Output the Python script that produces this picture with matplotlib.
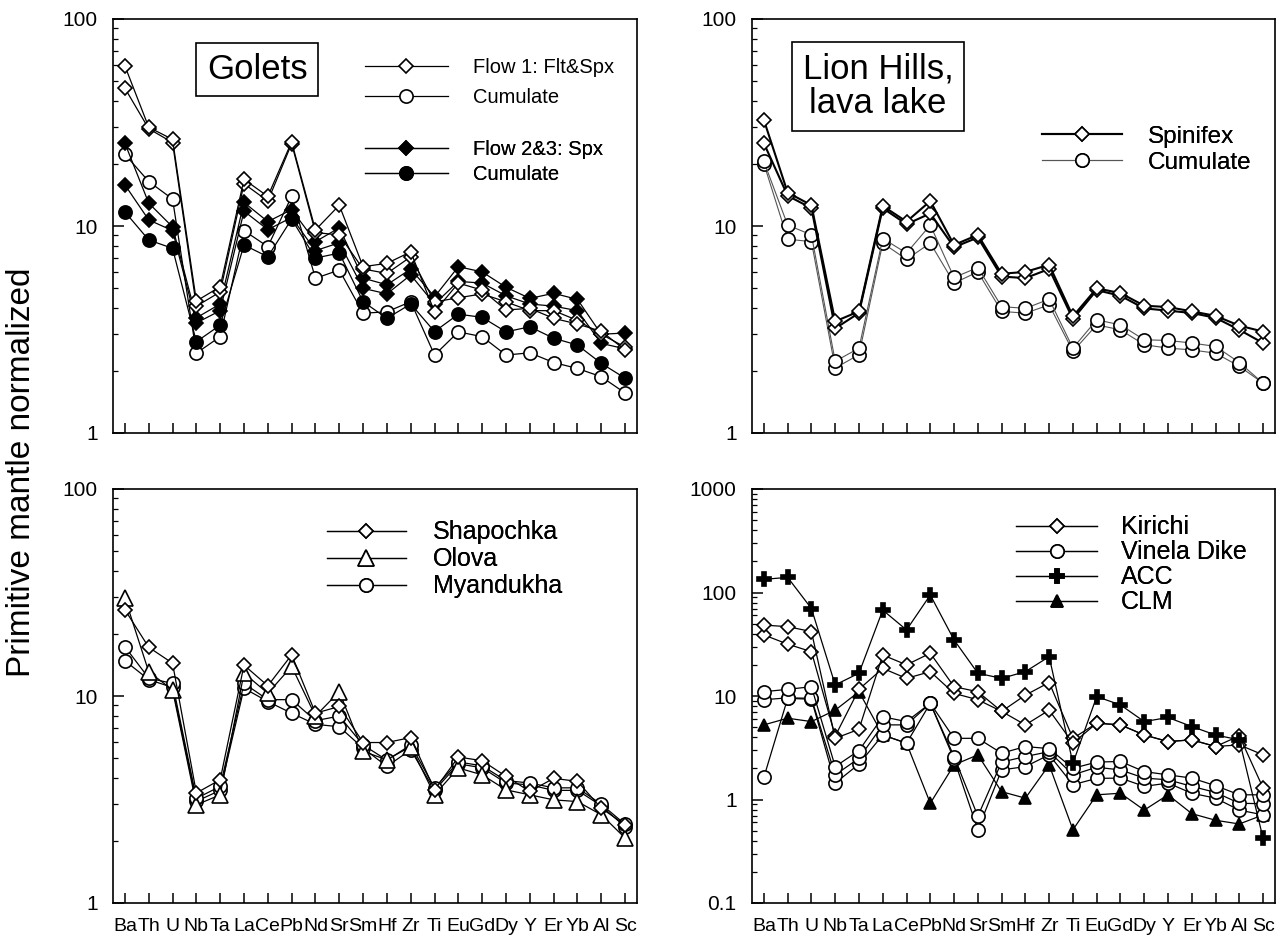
import matplotlib
matplotlib.use("Agg")
import matplotlib.pyplot as plt
from matplotlib.lines import Line2D
from matplotlib.ticker import LogLocator, FuncFormatter, NullFormatter

plt.rcParams["font.family"] = ["Liberation Sans", "DejaVu Sans"]

elements = ["Ba", "Th", "U", "Nb", "Ta", "La", "Ce", "Pb", "Nd", "Sr", "Sm",
            "Hf", "Zr", "Ti", "Eu", "Gd", "Dy", "Y", "Er", "Yb", "Al", "Sc"]

# Golets: flow 1 (fluid-textured & spinifex) and its cumulate
golets_flow1_a = [59.3, 30.0, 26.2, 4.34, 5.09, 16.8, 13.9, 25.5, 9.57, 12.6, 6.36,
                  6.6, 7.5, 3.85, 5.3, 4.9, 3.93, 4.0, 3.58, 3.36, 3.1, 2.52]
golets_flow1_b = [46.3, 29.5, 25.3, 4.1, 4.8, 16.0, 13.2, 25.0, 9.3, 9.05, 6.2,
                  5.9, 7.1, 4.3, 4.5, 4.7, 4.3, 3.9, 3.9, 3.5, 3.0, 2.6]
golets_flow1_cum = [22.2, 16.4, 13.5, 2.43, 2.92, 9.5, 7.95, 13.9, 5.59, 6.13, 3.79,
                    3.85, 4.31, 2.38, 3.08, 2.92, 2.38, 2.44, 2.19, 2.05, 1.87, 1.56]
# Golets: flows 2 & 3 spinifex and cumulate
golets_flow23_a = [25.1, 12.9, 9.9, 3.6, 4.2, 13.0, 10.5, 12.0, 8.4, 9.8, 5.6,
                   5.2, 6.2, 4.55, 6.36, 6.0, 5.06, 4.47, 4.73, 4.42, 3.0, 3.04]
golets_flow23_b = [15.8, 10.7, 9.5, 3.4, 3.9, 11.8, 9.6, 11.0, 7.6, 8.3, 5.0,
                   4.7, 5.8, 4.2, 5.4, 5.3, 4.6, 4.2, 4.1, 3.9, 2.71, 2.55]
golets_flow23_cum = [11.7, 8.56, 7.8, 2.76, 3.32, 8.1, 7.1, 10.8, 7.0, 7.4, 4.31,
                     3.58, 4.2, 3.09, 3.75, 3.62, 3.08, 3.26, 2.87, 2.66, 2.17, 1.84]

# Lion Hills lava lake
lion_spx_a = [32.5, 14.5, 12.6, 3.46, 3.87, 12.5, 10.5, 13.2, 8.1, 9.06, 5.88,
              6.0, 6.5, 3.66, 5.0, 4.74, 4.12, 4.06, 3.87, 3.68, 3.3, 3.09]
lion_spx_b = [25.1, 14.0, 12.2, 3.2, 3.8, 12.2, 10.2, 11.5, 7.9, 8.8, 5.7,
              5.6, 6.2, 3.55, 4.9, 4.6, 4.0, 3.9, 3.8, 3.6, 3.15, 2.72]
lion_cum_a = [20.5, 10.1, 9.06, 2.22, 2.57, 8.7, 7.4, 10.1, 5.64, 6.3, 4.08,
              4.0, 4.43, 2.57, 3.52, 3.33, 2.82, 2.8, 2.72, 2.62, 2.19, 1.74]
lion_cum_b = [20.0, 8.64, 8.4, 2.06, 2.39, 8.27, 6.9, 8.27, 5.3, 6.0, 3.87,
              3.79, 4.16, 2.48, 3.33, 3.15, 2.67, 2.57, 2.52, 2.43, 2.1, 1.74]

# Shapochka, Olova, Myandukha
shapochka = [26.1, 17.2, 14.4, 3.4, 3.94, 14.1, 11.2, 15.8, 8.26, 8.9, 5.96,
             5.96, 6.3, 3.52, 5.07, 4.87, 4.09, 3.46, 4.0, 3.87, 2.87, 2.39]
olova = [29.7, 13.1, 10.7, 2.98, 3.33, 12.9, 10.3, 13.9, 8.0, 10.5, 5.4,
         4.92, 5.7, 3.33, 4.49, 4.16, 3.52, 3.33, 3.15, 3.09, 2.67, 2.06]
myandukha_a = [17.3, 12.2, 11.5, 3.2, 3.66, 11.5, 9.6, 9.6, 7.6, 8.0, 5.8,
               4.9, 5.8, 3.6, 4.8, 4.6, 3.9, 3.8, 3.6, 3.6, 3.0, 2.4]
myandukha_b = [14.8, 12.0, 11.0, 3.1, 3.5, 10.9, 9.4, 8.26, 7.3, 7.1, 5.6,
               4.57, 5.5, 3.5, 4.7, 4.5, 3.8, 3.72, 3.5, 3.5, 2.95, 2.33]

# Kirichi, Vinela Dike, average continental crust, continental lithospheric mantle
kirichi_a = [48.4, 46.8, 41.9, 3.9, 4.77, 24.9, 20.0, 25.9, 12.3, 11.0, 7.1,
             5.26, 7.3, 3.5, 5.46, 5.26, 4.2, 3.63, 3.77, 3.25, 4.12, 1.29]
kirichi_b = [38.9, 31.7, 26.8, 4.1, 11.6, 18.5, 14.8, 17.2, 10.6, 9.2, 7.1,
             10.2, 13.5, 3.9, 5.46, 5.26, 4.2, 3.63, 3.77, 3.25, 3.37, 2.7]
vinela_a = [11.0, 11.6, 12.3, 2.08, 2.97, 6.3, 5.66, 8.5, 3.9, 3.9, 2.8,
            3.25, 3.1, 2.0, 2.3, 2.33, 1.86, 1.73, 1.61, 1.36, 1.11, 1.11]
vinela_b = [9.2, 9.6, 9.5, 1.73, 2.5, 5.26, 5.26, 8.5, 2.6, 0.69, 2.3,
            2.6, 2.9, 1.73, 2.05, 1.93, 1.61, 1.55, 1.34, 1.17, 0.92, 0.91]
vinela_c = [1.64, 9.5, 9.3, 1.44, 2.2, 4.2, 3.5, 8.5, 2.45, 0.51, 1.93,
            2.08, 2.7, 1.39, 1.6, 1.61, 1.34, 1.44, 1.15, 1.03, 0.79, 0.71]
acc = [134, 140, 70, 12.8, 16.6, 67.6, 43.5, 94.6, 34.8, 16.6, 14.8,
       17.2, 24.0, 2.24, 9.87, 8.2, 5.66, 6.2, 5.07, 4.2, 3.77, 0.42]
clm = [5.26, 6.1, 5.66, 7.3, 11.0, 4.2, 3.5, 0.92, 2.16, 2.7, 1.19,
       1.03, 2.16, 0.51, 1.11, 1.15, 0.79, 1.11, 0.73, 0.63, 0.58, 0.71]

W, H = 1287, 943
fig = plt.figure(figsize=(W / 100, H / 100), dpi=100)


def add_panel(x0, y0, x1, y1):
    return fig.add_axes([x0 / W, 1 - y1 / H, (x1 - x0) / W, (y1 - y0) / H])


def style(ax, ylim, show_labels):
    ax.set_yscale("log")
    ax.set_ylim(*ylim)
    ax.set_xlim(-0.5, len(elements) - 0.5)
    ax.set_xticks(range(len(elements)))
    ax.set_xticklabels(elements if show_labels else [])
    ax.tick_params(axis="x", direction="in", length=7, width=1.1, top=False,
                   labelsize=14, pad=11)
    ax.yaxis.set_major_locator(LogLocator(base=10, numticks=12))
    ax.yaxis.set_minor_locator(LogLocator(base=10, subs=range(2, 10), numticks=12))
    ax.yaxis.set_major_formatter(FuncFormatter(lambda v, p: f"{v:g}"))
    ax.yaxis.set_minor_formatter(NullFormatter())
    ax.tick_params(axis="y", which="major", direction="in", length=8, width=1.1,
                   right=False, labelsize=15, pad=11)
    ax.tick_params(axis="y", which="minor", direction="in", length=3.5, width=0.9,
                   right=False)
    for sp in ax.spines.values():
        sp.set_linewidth(1.2)


x = list(range(len(elements)))


def series(ax, y, marker, filled, ms, lw=0.9, color="black", z=2):
    ax.plot(x, y, color=color, lw=lw, marker=marker, ms=ms,
            mfc="black" if filled else "white", mec="black", mew=1.2, zorder=z)


def handle(marker, filled, ms, lw=0.9, color="black"):
    return Line2D([0], [0], color=color, lw=lw, marker=marker, ms=ms,
                  mfc="black" if filled else "white", mec="black", mew=1.2)


def legend(ax, handles, labels, anchor, fs, hl, htp, ls):
    lg = ax.legend(handles, labels, loc="upper left", bbox_to_anchor=anchor,
                   frameon=False, fontsize=fs, handlelength=hl, handletextpad=htp,
                   labelspacing=ls, borderpad=0, borderaxespad=0, numpoints=1)
    ax.add_artist(lg)


DM, CM = 7.5, 9.5  # diamond / circle marker sizes

# ---- Golets ----
ax = add_panel(113, 19, 637, 433)
style(ax, (1, 100), False)
series(ax, golets_flow1_cum, "o", False, CM)
series(ax, golets_flow23_cum, "o", True, CM)
series(ax, golets_flow23_b, "D", True, DM)
series(ax, golets_flow23_a, "D", True, DM)
series(ax, golets_flow1_b, "D", False, DM)
series(ax, golets_flow1_a, "D", False, DM)
legend(ax, [handle("D", False, DM), handle("o", False, CM)],
       ["Flow 1: Flt&Spx", "Cumulate"], (0.481, 0.905), 14.5, 4.1, 1.25, 0.55)
legend(ax, [handle("D", True, DM), handle("o", True, CM)],
       ["Flow 2&3: Spx", "Cumulate"], (0.481, 0.707), 14.5, 4.1, 1.25, 0.3)
ax.text(0.275, 0.878, "Golets", transform=ax.transAxes, ha="center", va="center",
        fontsize=25, bbox=dict(boxstyle="square,pad=0.3", fc="white", ec="black", lw=1.2))

# ---- Lion Hills ----
ax = add_panel(752, 19, 1275, 433)
style(ax, (1, 100), False)
series(ax, lion_cum_b, "o", False, CM, lw=0.8, color="#555555")
series(ax, lion_cum_a, "o", False, CM, lw=0.8, color="#555555")
series(ax, lion_spx_b, "D", False, DM, lw=1.5)
series(ax, lion_spx_a, "D", False, DM, lw=1.5)
legend(ax, [handle("D", False, DM, lw=1.5), handle("o", False, CM, lw=0.8, color="#555555")],
       ["Spinifex", "Cumulate"], (0.554, 0.742), 17.5, 3.3, 1.06, 0.16)
ax.text(0.241, 0.837, "Lion Hills,\nlava lake", transform=ax.transAxes,
        ha="center", va="center", fontsize=25, linespacing=1.05,
        bbox=dict(boxstyle="square,pad=0.3", fc="white", ec="black", lw=1.2))

# ---- Shapochka / Olova / Myandukha ----
ax = add_panel(113, 489, 637, 903)
style(ax, (1, 100), True)
series(ax, myandukha_b, "o", False, CM)
series(ax, myandukha_a, "o", False, CM)
series(ax, olova, "^", False, 11)
series(ax, shapochka, "D", False, DM)
legend(ax, [handle("D", False, DM), handle("^", False, 11), handle("o", False, CM)],
       ["Shapochka", "Olova", "Myandukha"], (0.408, 0.924), 18, 3.16, 1.08, 0.12)

# ---- Kirichi / Vinela Dike / ACC / CLM ----
ax = add_panel(752, 489, 1275, 903)
style(ax, (0.1, 1000), True)
series(ax, clm, "^", True, 9, z=2)
series(ax, vinela_c, "o", False, CM, z=3)
series(ax, vinela_b, "o", False, CM, z=3)
series(ax, vinela_a, "o", False, CM, z=3)
series(ax, kirichi_b, "D", False, DM, z=4)
series(ax, kirichi_a, "D", False, DM, z=4)
series(ax, acc, "P", True, 10, z=5)
legend(ax, [handle("D", False, DM), handle("o", False, CM), handle("P", True, 10),
            handle("^", True, 9)],
       ["Kirichi", "Vinela Dike", "ACC", "CLM"], (0.505, 0.936), 18, 3.24, 0.96, 0.04)

fig.text(22 / W, 1 - 472 / H, "Primitive mantle normalized", rotation=90,
         ha="center", va="center", fontsize=24)

fig.savefig("out.png", dpi=100)
